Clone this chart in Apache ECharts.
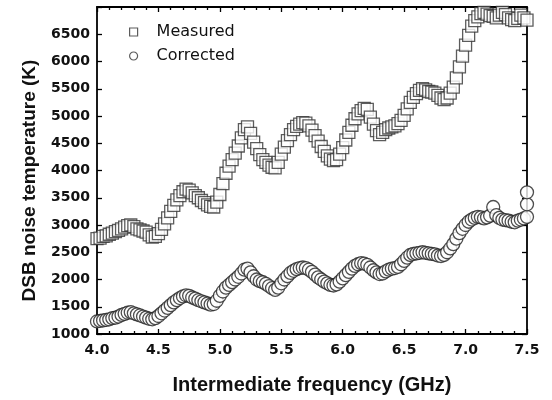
<!DOCTYPE html>
<html><head><meta charset="utf-8">
<script src="https://cdn.jsdelivr.net/npm/echarts@6/dist/echarts.min.js"></script>
<style>html,body{margin:0;padding:0;background:#fff}#c{width:552px;height:400px}</style>
</head><body><div id="c"></div>
<script>
const freq = [4.000,4.025,4.050,4.075,4.100,4.125,4.150,4.175,4.200,4.225,4.250,4.275,4.300,4.325,4.350,4.375,4.400,4.425,4.450,4.475,
4.500,4.525,4.550,4.575,4.600,4.625,4.650,4.675,4.700,4.725,4.750,4.775,4.800,4.825,4.850,4.875,4.900,4.925,4.950,4.975,
5.000,5.025,5.050,5.075,5.100,5.125,5.150,5.175,5.200,5.225,5.250,5.275,5.300,5.325,5.350,5.375,5.400,5.425,5.450,5.475,
5.500,5.525,5.550,5.575,5.600,5.625,5.650,5.675,5.700,5.725,5.750,5.775,5.800,5.825,5.850,5.875,5.900,5.925,5.950,5.975,
6.000,6.025,6.050,6.075,6.100,6.125,6.150,6.175,6.200,6.225,6.250,6.275,6.300,6.325,6.350,6.375,6.400,6.425,6.450,6.475,
6.500,6.525,6.550,6.575,6.600,6.625,6.650,6.675,6.700,6.725,6.750,6.775,6.800,6.825,6.850,6.875,6.900,6.925,6.950,6.975,
7.000,7.025,7.050,7.075,7.100,7.125,7.150,7.175,7.200,7.225,7.250,7.275,7.300,7.325,7.350,7.375,7.400,7.425,7.450,7.475,7.500];

const measured = [2750,2760,2790,2800,2830,2850,2880,2900,2930,2960,2990,3000,2970,2930,2910,2890,2870,2820,2780,2790,
2840,2920,3020,3130,3250,3360,3460,3540,3610,3660,3640,3590,3540,3500,3450,3410,3370,3340,3330,3420,
3560,3760,3950,4080,4200,4320,4450,4600,4750,4800,4680,4520,4400,4290,4200,4150,4100,4060,4050,4150,
4300,4430,4550,4660,4750,4810,4850,4880,4870,4820,4740,4640,4540,4440,4350,4270,4210,4180,4200,4300,
4420,4560,4700,4830,4950,5040,5100,5140,5120,4980,4850,4730,4660,4700,4750,4780,4800,4820,4860,4920,
5010,5130,5250,5340,5410,5470,5500,5480,5450,5440,5420,5380,5330,5300,5330,5420,5530,5700,5900,6100,
6300,6480,6650,6750,6820,6880,6900,6870,6840,6830,6800,6850,6900,6860,6800,6770,6750,6790,6850,6800,6760];

const corrected = [1230,1240,1250,1260,1270,1290,1300,1320,1350,1370,1390,1400,1380,1360,1340,1320,1300,1280,1270,1290,
1330,1380,1430,1480,1530,1580,1620,1660,1690,1710,1700,1670,1650,1620,1600,1580,1560,1540,1550,1610,
1700,1780,1850,1900,1950,2000,2050,2110,2180,2200,2130,2060,2000,1970,1950,1920,1880,1840,1810,1850,
1930,2000,2060,2120,2160,2190,2210,2220,2210,2180,2140,2090,2040,2000,1960,1930,1900,1890,1910,1960,
2020,2080,2140,2200,2250,2280,2300,2290,2270,2220,2170,2130,2100,2110,2150,2180,2200,2210,2230,2280,
2340,2400,2450,2470,2480,2490,2500,2490,2480,2470,2460,2440,2430,2450,2500,2570,2650,2750,2850,2930,
3000,3060,3100,3130,3150,3140,3120,3140,3170,3330,3180,3130,3100,3090,3080,3060,3050,3080,3100,3120,3150];

const correctedExtraFreq = [7.5, 7.5];
const correctedExtraT = [3380, 3600];

const yTicks = [1000,1500,2000,2500,3000,3500,4000,4500,5000,5500,6000,6500];

const measuredData = freq.map((f,i)=>[f, measured[i]]);
const correctedData = freq.map((f,i)=>[f, corrected[i]]).concat(correctedExtraFreq.map((f,i)=>[f, correctedExtraT[i]]));

const FONT = 'Liberation Sans, Arial, sans-serif';
const TICKFONT = 'DejaVu Sans, sans-serif';
const chart = echarts.init(document.getElementById('c'), null, {renderer:'canvas'});
const axisLine = {show:true, onZero:false, lineStyle:{color:'#000', width:1.8}};
chart.setOption({
  animation:false,
  backgroundColor:'#fff',
  grid:{left:97, right:25, top:7, bottom:63},
  legend:{
    left:124, top:19, orient:'vertical', itemWidth:8, itemHeight:8, itemGap:8,
    textStyle:{fontFamily:TICKFONT, fontSize:16, color:'#111', padding:[0,0,0,14]},
    data:[{name:'Measured', icon:'rect'},{name:'Corrected', icon:'circle'}],
    itemStyle:{color:'#fff', borderColor:'#333', borderWidth:1.2}
  },
  xAxis:[{
    type:'value', min:4, max:7.5, interval:0.5,
    name:'Intermediate frequency (GHz)', nameLocation:'middle', nameGap:41,
    nameTextStyle:{fontFamily:FONT, fontSize:20, fontWeight:'bold', color:'#111'},
    axisLine:axisLine,
    axisTick:{show:true, inside:true, length:5, lineStyle:{color:'#000', width:1.3}},
    minorTick:{show:true, splitNumber:5, length:3, lineStyle:{color:'#000', width:1.3}},
    axisLabel:{fontFamily:TICKFONT, fontSize:14, fontWeight:'bold', color:'#111', margin:9,
      formatter:v=>v.toFixed(1)},
    splitLine:{show:false}
  },{
    type:'value', position:'top', min:4, max:7.5, interval:0.5,
    axisLine:axisLine,
    axisTick:{show:true, inside:true, length:5, lineStyle:{color:'#000', width:1.3}},
    minorTick:{show:true, splitNumber:5, length:3, lineStyle:{color:'#000', width:1.3}},
    axisLabel:{show:false}, splitLine:{show:false}
  }],
  yAxis:[{
    type:'value', min:1000, max:7000, interval:500,
    name:'DSB noise temperature (K)', nameLocation:'middle', nameGap:58,
    nameTextStyle:{fontFamily:FONT, fontSize:19, fontWeight:'bold', color:'#111', padding:[0,20,0,0]},
    axisLine:axisLine,
    axisTick:{show:true, inside:true, length:5, lineStyle:{color:'#000', width:1.3}},
    axisLabel:{fontFamily:TICKFONT, fontSize:14, fontWeight:'bold', color:'#111', margin:7,
      formatter:v=>yTicks.indexOf(v)>=0 ? String(v) : ''},
    splitLine:{show:false}
  },{
    type:'value', position:'right', min:1000, max:7000, interval:500,
    axisLine:axisLine,
    axisTick:{show:true, inside:true, length:5, lineStyle:{color:'#000', width:1.3}},
    axisLabel:{show:false}, splitLine:{show:false}
  }],
  series:[{
    name:'Measured', type:'scatter', symbol:'rect', symbolSize:12,
    data:measuredData, clip:true,
    itemStyle:{color:'#fff', borderColor:'#333', borderWidth:1.3}
  },{
    name:'Corrected', type:'scatter', symbol:'circle', symbolSize:13,
    data:correctedData, clip:false,
    itemStyle:{color:'#fff', borderColor:'#222', borderWidth:1.3}
  }]
});
</script></body></html>
